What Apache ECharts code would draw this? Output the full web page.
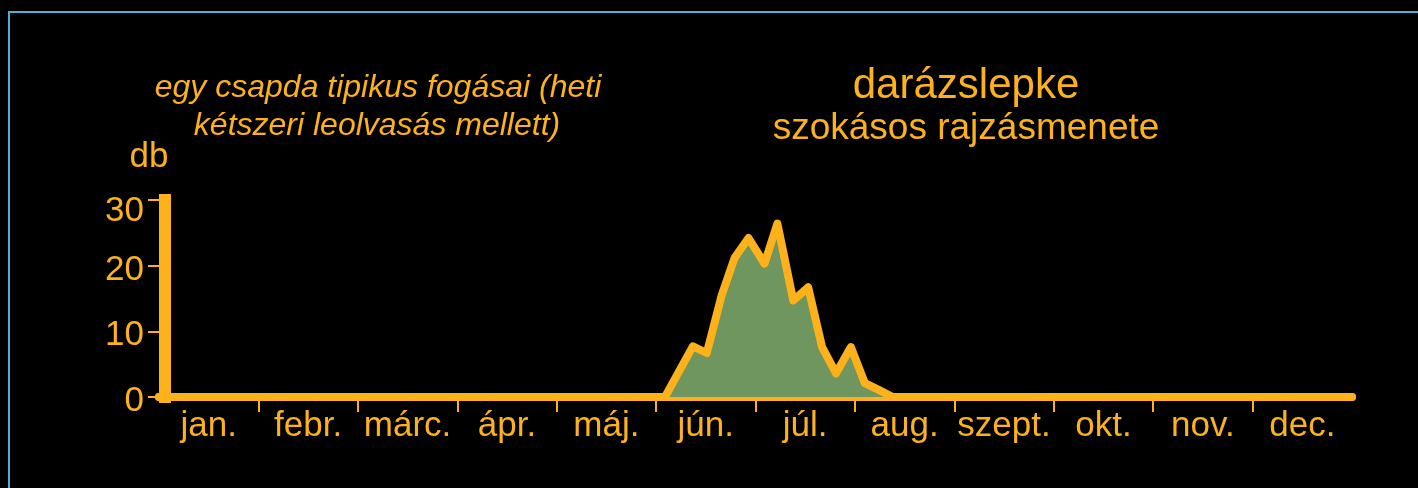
<!DOCTYPE html>
<html>
<head>
<meta charset="utf-8">
<script src="https://cdn.jsdelivr.net/npm/echarts@6/dist/echarts.min.js"></script>
<style>
html,body{margin:0;padding:0;background:#000;}
#c{width:1418px;height:488px;}
</style>
</head>
<body>
<div id="c"></div>
<script>
// month labels (category names)
const months = ['jan.', 'febr.', 'márc.', 'ápr.', 'máj.', 'jún.', 'júl.', 'aug.', 'szept.', 'okt.', 'nov.', 'dec.'];
// reading position on the year, in months from 1 January (0 = jan. 1, 12 = year end)
const readingPos = [0, 5.09, 5.22, 5.37, 5.51, 5.66, 5.79, 5.93, 6.09, 6.22, 6.38, 6.53, 6.67, 6.81, 6.96, 7.10, 7.25, 7.38, 12];
// catches per trap (db)
const catches = [0, 0, 3.6, 7.7, 6.7, 15.5, 21.2, 24.2, 20.3, 26.4, 14.7, 16.7, 7.6, 3.6, 7.6, 2.1, 1.0, 0, 0];
// y tick values
const yTicks = [0, 10, 20, 30];

const ORANGE = '#FDB11B';
const GREEN = '#6E965E';
const FONT = '"Liberation Sans", Arial, sans-serif';

const chart = echarts.init(document.getElementById('c'), null, {renderer: 'canvas'});
const monthBounds = months.map((m, i) => i).slice(1);
const monthMids = months.map((m, i) => i + 0.5);
const yMax = yTicks[yTicks.length - 1];

chart.setOption({
  backgroundColor: '#000',
  animation: false,
  grid: {left: 159, right: 66, top: 200, bottom: 91, containLabel: false},
  xAxis: {
    type: 'value', min: 0, max: 12,
    splitLine: {show: false},
    axisLine: {show: true, lineStyle: {color: ORANGE, width: 8}},
    axisTick: {show: true, customValues: monthBounds, length: 15, lineStyle: {color: ORANGE, width: 2}},
    axisLabel: {
      show: true, customValues: monthMids, margin: 12,
      color: ORANGE, fontSize: 35, fontFamily: FONT,
      formatter: v => months[Math.floor(v)]
    }
  },
  yAxis: {
    type: 'value', min: yTicks[0], max: yMax, interval: 10,
    offset: -6,
    splitLine: {show: false},
    axisLine: {show: true, lineStyle: {color: ORANGE, width: 12, cap: 'square'}},
    axisTick: {show: true, length: 17, lineStyle: {color: ORANGE, width: 2}},
    axisLabel: {
      color: ORANGE, fontSize: 35, fontFamily: FONT, margin: 21,
      formatter: v => (v === yMax ? '{t|' + v + '}' : '{n|' + v + '}'),
      rich: {
        t: {color: ORANGE, fontSize: 35, fontFamily: FONT, padding: [22, 0, 0, 0]},
        n: {color: ORANGE, fontSize: 35, fontFamily: FONT, padding: [9, 0, 0, 0]}
      }
    }
  },
  series: [{
    type: 'line',
    data: readingPos.map((x, i) => [x, catches[i]]),
    symbol: 'none',
    lineStyle: {color: ORANGE, width: 8, cap: 'round', join: 'round'},
    areaStyle: {color: GREEN, opacity: 1},
    z: 3
  }],
  graphic: [
    {type: 'rect', silent: true, z: -1,
     shape: {x: 9, y: 12, width: 1600, height: 700},
     style: {fill: 'none', stroke: '#4FAED6', lineWidth: 2}},
    {type: 'text', x: 966, y: 86,
     style: {text: 'darázslepke', fill: ORANGE, font: '42px ' + FONT, textAlign: 'center', textVerticalAlign: 'middle'}},
    {type: 'text', x: 966, y: 129,
     style: {text: 'szokásos rajzásmenete', fill: ORANGE, font: '37px ' + FONT, textAlign: 'center', textVerticalAlign: 'middle'}},
    {type: 'text', x: 378, y: 88,
     style: {text: 'egy csapda tipikus fogásai (heti', fill: ORANGE, font: 'italic 32px ' + FONT, textAlign: 'center', textVerticalAlign: 'middle'}},
    {type: 'text', x: 377, y: 126,
     style: {text: 'kétszeri leolvasás mellett)', fill: ORANGE, font: 'italic 32px ' + FONT, textAlign: 'center', textVerticalAlign: 'middle'}},
    {type: 'text', x: 149, y: 157,
     style: {text: 'db', fill: ORANGE, font: '35px ' + FONT, textAlign: 'center', textVerticalAlign: 'middle'}}
  ]
});
</script>
</body>
</html>
